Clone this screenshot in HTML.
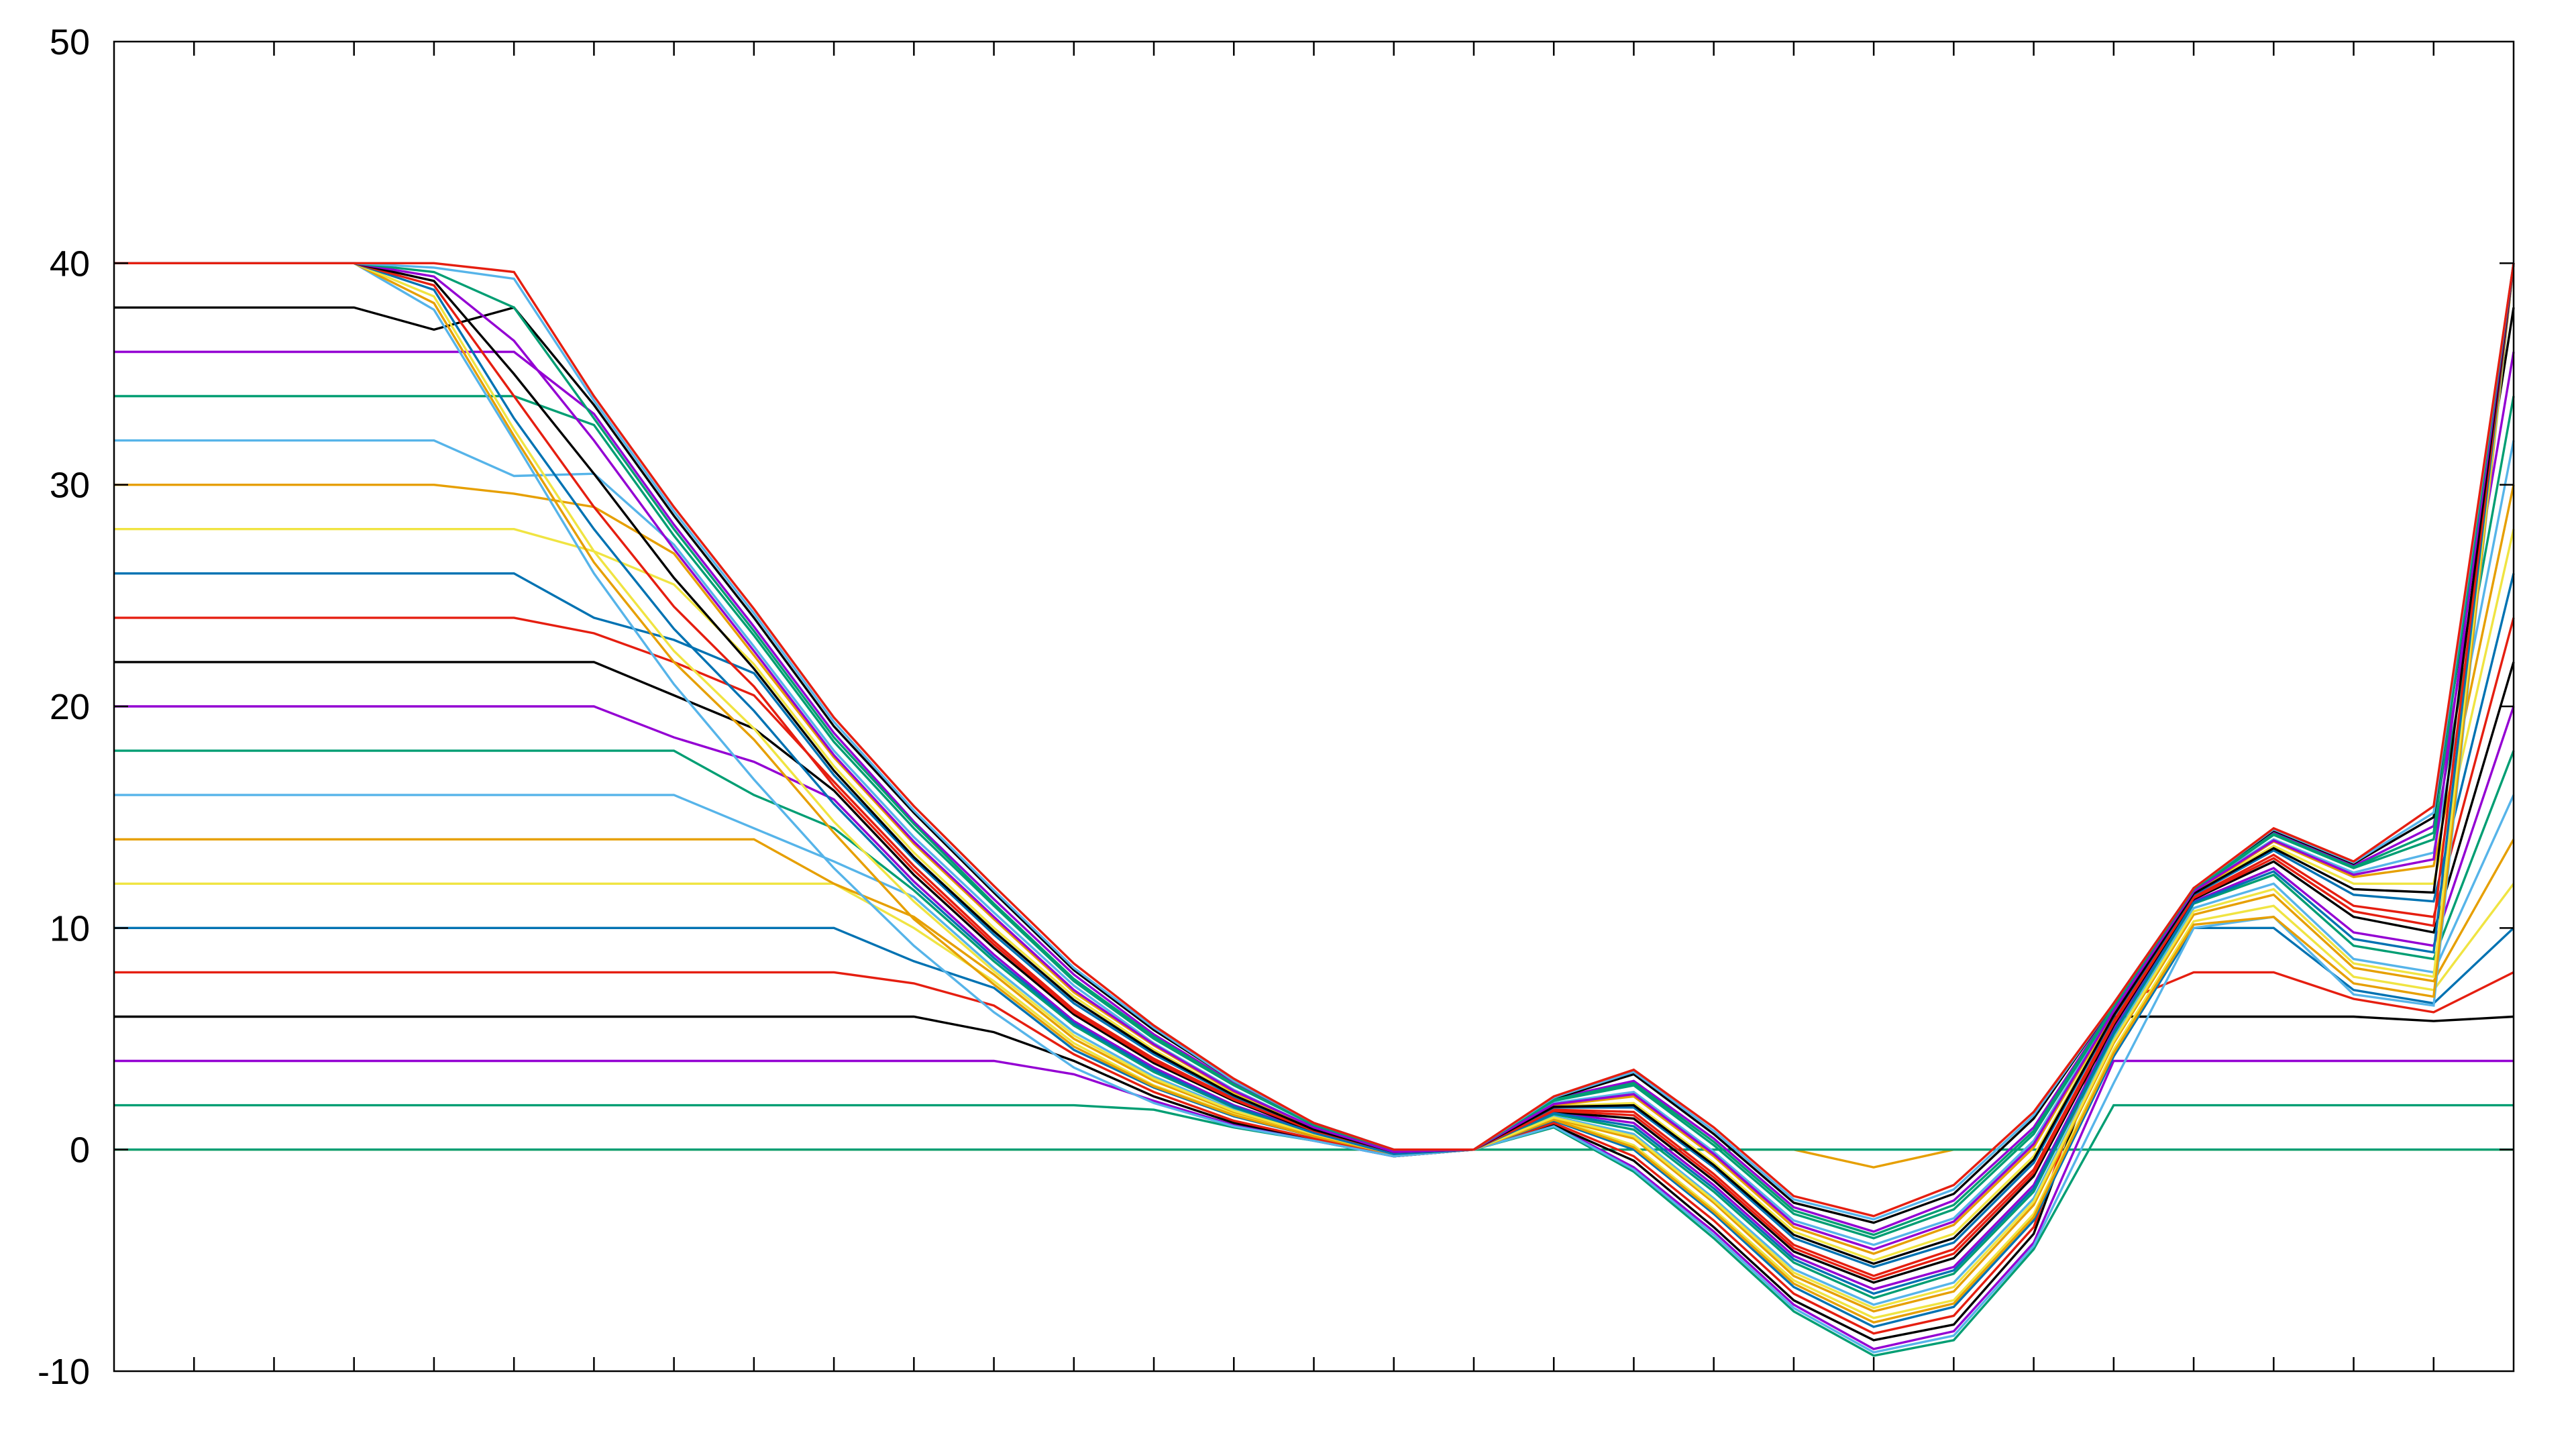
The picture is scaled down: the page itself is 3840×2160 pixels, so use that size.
<!DOCTYPE html>
<html><head><meta charset="utf-8"><style>
html,body{margin:0;padding:0;background:#fff;}
svg{display:block;}
text{font-family:"Liberation Sans",sans-serif;font-size:54px;fill:#000;}
</style></head><body>
<svg id="chart" width="3840" height="2160" viewBox="0 0 3840 2160" xmlns="http://www.w3.org/2000/svg">
<rect x="0" y="0" width="3840" height="2160" fill="#fff"/>
<g id="series"></g>
<g id="axes"></g>
</svg>
<script>
const yTicks = [-10, 0, 10, 20, 30, 40, 50];
const yTickLabels = ["-10", "0", "10", "20", "30", "40", "50"];
const xCount = 30;
const s40 = [40,40,40,40,40,39.6,34,29,24.4,19.5,15.5,11.9,8.4,5.6,3.2,1.2,0,0,2.4,3.6,1,-2.1,-3,-1.6,1.7,6.6,11.8,14.5,13,15.5,40];
const s38 = [38,38,38,38,37,38,33.6,28.6,24,19.1,15.2,11.6,8.1,5.4,3.1,1.2,0,0,2.3,3.4,0.7,-2.4,-3.3,-2,1.4,6.6,11.8,14.4,12.9,15,38];
const s36 = [36,36,36,36,36,36,33.2,28.2,23.6,18.8,14.8,11.3,7.9,5.2,3,1.1,0,0,2.3,3.1,0.5,-2.6,-3.7,-2.3,1.0,6.5,11.8,14.3,12.8,14.6,36];
const s34 = [34,34,34,34,34,34,32.7,27.7,23.2,18.4,14.5,11,7.6,5,2.9,1.1,0,0,2.2,2.9,0.2,-2.9,-4,-2.7,0.7,6.4,11.7,14.2,12.7,14,34];
const s32 = [32,32,32,32,32,30.4,30.5,27.3,22.7,18,14.1,10.7,7.4,4.8,2.7,1,-0.1,0,2.1,2.6,-0.1,-3.2,-4.3,-3.1,0.4,6.3,11.7,14,12.5,13.4,32];
const s30 = [30,30,30,30,30,29.6,29,26.9,22.3,17.7,13.8,10.4,7.1,4.7,2.6,1,-0.1,0,2,2.4,-0.3,-3.5,-4.7,-3.4,0.1,6.2,11.6,13.9,12.3,12.8,30];
const s28 = [28,28,28,28,28,28,27,25.5,21.9,17.3,13.4,10,6.9,4.5,2.5,0.9,-0.1,0,1.96,2.1,-0.6,-3.7,-5,-3.8,-0.3,6.1,11.6,13.7,12,12,28];
const s26 = [26,26,26,26,26,26,24,23,21.5,16.9,13.1,9.7,6.6,4.3,2.4,0.9,-0.1,0,1.9,1.9,-0.8,-4,-5.3,-4.2,-0.6,6,11.5,13.5,11.5,11.2,26];
const s24 = [24,24,24,24,24,24,23.3,22,20.5,16.6,12.8,9.4,6.3,4.1,2.3,0.9,-0.1,0,1.8,1.7,-1.1,-4.3,-5.7,-4.5,-0.9,5.8,11.4,13.3,11,10.5,24];
const s22 = [22,22,22,22,22,22,22,20.5,19,16.2,12.4,9.1,6.1,3.9,2.2,0.8,-0.1,0,1.7,1.4,-1.4,-4.6,-6,-4.9,-1.2,5.6,11.3,13,10.5,9.8,22];
const s20 = [20,20,20,20,20,20,20,18.6,17.5,15.8,12.1,8.8,5.8,3.7,2,0.8,-0.2,0,1.7,1.2,-1.6,-4.8,-6.3,-5.3,-1.6,5.4,11.2,12.7,9.8,9.2,20];
const s18 = [18,18,18,18,18,18,18,18,16,14.5,11.7,8.5,5.6,3.5,1.9,0.7,-0.2,0,1.6,0.9,-1.9,-5.1,-6.7,-5.6,-1.9,5.2,11.1,12.4,9.2,8.6,18];
const s16 = [16,16,16,16,16,16,16,16,14.5,13,11.4,8.2,5.3,3.3,1.8,0.7,-0.2,0,1.5,0.7,-2.2,-5.4,-7,-6,-2.2,5,10.9,12,8.6,8,16];
const s14 = [14,14,14,14,14,14,14,14,14,12,10.5,7.9,5,3.1,1.7,0.7,-0.2,0,1.4,0.5,-2.4,-5.7,-7.3,-6.4,-2.5,4.8,10.6,11.5,8.2,7.6,14];
const s12 = [12,12,12,12,12,12,12,12,12,12,10,7.6,4.8,2.9,1.6,0.6,-0.2,0,1.4,0.2,-2.7,-5.9,-7.6,-6.8,-2.9,4.5,10.3,11,7.8,7.2,12];
const s10 = [10,10,10,10,10,10,10,10,10,10,8.5,7.3,4.5,2.8,1.5,0.6,-0.2,0,1.3,0,-2.9,-6.2,-8,-7.1,-3.2,4.2,10,10,7.2,6.6,10];
const s8 = [8,8,8,8,8,8,8,8,8,8,7.5,6.5,4.3,2.6,1.3,0.5,-0.3,0,1.2,-0.3,-3.2,-6.5,-8.3,-7.5,-3.5,6.5,8,8,6.8,6.2,8];
const s6 = [6,6,6,6,6,6,6,6,6,6,6,5.3,4,2.4,1.2,0.5,-0.3,0,1.1,-0.5,-3.5,-6.8,-8.6,-7.9,-3.8,6,6,6,6,5.8,6];
const s4 = [4,4,4,4,4,4,4,4,4,4,4,4,3.4,2.2,1.1,0.4,-0.3,0,1.1,-0.8,-3.7,-7,-9,-8.2,-4.2,4,4,4,4,4,4];
const s2 = [2,2,2,2,2,2,2,2,2,2,2,2,2,1.8,1,0.4,-0.3,0,1,-1,-4,-7.3,-9.3,-8.6,-4.5,2,2,2,2,2,2];
const s0 = [0,0,0,0,0,0,0,0,0,0,0,0,0,0,0,0,0,0,0,0,0,0,0,0,0,0,0,0,0,0,0];
const sDip = [0,0,0,0,0,0,0,0,0,0,0,0,0,0,0,0,0,0,0,0,0,0,-0.8,0,0,0,0,0,0,0,0];
const eA = [40,40,40,40,39.8,39.3,33.8,28.8,24.2,19.3,15.3,11.7,8.2,5.5,3.1,1.2,0,0,2.35,3.5,0.85,-2.25,-3.15,-1.8,1.55,6.6,11.8,14.45,12.95,15.2,40];
const eB = [40,40,40,40,39.6,38,33,28,23.4,18.6,14.7,11.1,7.7,5.1,2.95,1.1,0,0,2.25,3,0.35,-2.75,-3.85,-2.5,0.85,6.45,11.75,14.25,12.75,14.3,40];
const eC = [40,40,40,40,39.4,36.5,32,27.1,22.5,17.8,13.9,10.5,7.2,4.75,2.65,1,-0.1,0,2.05,2.5,-0.2,-3.35,-4.5,-3.25,0.25,6.25,11.65,13.95,12.4,13.1,40];
const eD = [40,40,40,40,39.2,35,30.5,25.8,21.7,17.1,13.2,9.85,6.75,4.4,2.45,0.9,-0.1,0,1.93,2,-0.7,-3.85,-5.15,-4,-0.45,6.05,11.55,13.6,11.75,11.6,40];
const eE = [40,40,40,40,39,34,29,24.5,20.9,16.4,12.6,9.25,6.2,4,2.25,0.85,-0.1,0,1.75,1.55,-1.25,-4.45,-5.85,-4.7,-1.05,5.7,11.35,13.15,10.75,10.1,40];
const eF = [40,40,40,40,38.8,33,28,23.5,19.8,15.6,11.9,8.65,5.7,3.6,1.95,0.75,-0.2,0,1.65,1.05,-1.75,-4.95,-6.5,-5.45,-1.75,5.3,11.15,12.55,9.5,8.9,40];
const eG = [40,40,40,40,38.5,32.5,27,22.5,19,14.8,11.2,8.05,5.15,3.2,1.75,0.7,-0.2,0,1.45,0.6,-2.3,-5.55,-7.15,-6.2,-2.35,4.9,10.75,11.75,8.4,7.8,40];
const eH = [40,40,40,40,38.2,32.2,26.5,22,18.5,14.3,10.4,7.45,4.65,2.85,1.55,0.6,-0.2,0,1.35,0.1,-2.8,-6.05,-7.8,-6.95,-3.05,4.35,10.15,10.5,7.5,6.9,40];
const eI = [40,40,40,40,37.9,32,26,21,16.7,12.7,9.2,6.2,3.7,2.1,1.05,0.4,-0.3,0,1.05,-0.9,-3.85,-7.15,-9.15,-8.4,-4.35,3,10,10.5,7,6.5,40];
const seriesList = [sDip, s0, s2, s4, s6, s8, s10, s12, s14, s16, s18, s20, s22, s24, s26, s28, s30, s32, s34, s36, s38, eI, eH, eG, eF, eE, eD, eC, eB, eA, s40];
const seriesNames = ["dip","level-0","level-2","level-4","level-6","level-8","level-10","level-12","level-14","level-16","level-18","level-20","level-22","level-24","level-26","level-28","level-30","level-32","level-34","level-36","level-38","fan-i","fan-h","fan-g","fan-f","fan-e","fan-d","fan-c","fan-b","fan-a","level-40"];
const seriesColors = ["#e69f00","#009e73","#009e73","#9400d3","#000000","#e51e10","#0072b2","#f0e442","#e69f00","#56b4e9","#009e73","#9400d3","#000000","#e51e10","#0072b2","#f0e442","#e69f00","#56b4e9","#009e73","#9400d3","#000000","#56b4e9","#e69f00","#f0e442","#0072b2","#e51e10","#000000","#9400d3","#009e73","#56b4e9","#e51e10"];

const L = 170, R = 3747, T = 62, B = 2044;
const yMin = -10, yMax = 50;
function xs(i){ return L + (R - L) * i / xCount; }
function ys(v){ return B - (B - T) * (v - yMin) / (yMax - yMin); }
const NS = "http://www.w3.org/2000/svg";
const sg = document.getElementById('series');
const ag = document.getElementById('axes');

seriesList.forEach((arr, si) => {
  const p = document.createElementNS(NS, 'polyline');
  p.setAttribute('points', arr.map((v, i) => xs(i).toFixed(1) + ',' + ys(v).toFixed(1)).join(' '));
  p.setAttribute('fill', 'none');
  p.setAttribute('stroke', seriesColors[si]);
  p.setAttribute('stroke-width', '3.4');
  p.setAttribute('stroke-linejoin', 'miter');
  
  
  sg.appendChild(p);
});

const frame = document.createElementNS(NS, 'rect');
frame.setAttribute('x', L); frame.setAttribute('y', T);
frame.setAttribute('width', R - L); frame.setAttribute('height', B - T);
frame.setAttribute('fill', 'none'); frame.setAttribute('stroke', '#000'); frame.setAttribute('stroke-width', '2.5');


ag.appendChild(frame);

for (let i = 1; i < xCount; i++) {
  const t1 = document.createElementNS(NS, 'line');
  t1.setAttribute('x1', xs(i)); t1.setAttribute('x2', xs(i));
  t1.setAttribute('y1', B); t1.setAttribute('y2', B - 21);
  t1.setAttribute('stroke', '#000'); t1.setAttribute('stroke-width', '2.5');
  
  
  ag.appendChild(t1);
  const t2 = document.createElementNS(NS, 'line');
  t2.setAttribute('x1', xs(i)); t2.setAttribute('x2', xs(i));
  t2.setAttribute('y1', T); t2.setAttribute('y2', T + 21);
  t2.setAttribute('stroke', '#000'); t2.setAttribute('stroke-width', '2.5');
  
  
  ag.appendChild(t2);
}
yTicks.forEach((v, i) => {
  const y = ys(v);
  if (v > yMin && v < yMax) {
    const a = document.createElementNS(NS, 'line');
    a.setAttribute('x1', L); a.setAttribute('x2', L + 21); a.setAttribute('y1', y); a.setAttribute('y2', y);
    a.setAttribute('stroke', '#000'); a.setAttribute('stroke-width', '2.5');
    
    
    ag.appendChild(a);
    const b = document.createElementNS(NS, 'line');
    b.setAttribute('x1', R); b.setAttribute('x2', R - 21); b.setAttribute('y1', y); b.setAttribute('y2', y);
    b.setAttribute('stroke', '#000'); b.setAttribute('stroke-width', '2.5');
    
    
    ag.appendChild(b);
  }
  const t = document.createElementNS(NS, 'text');
  t.setAttribute('x', 134); t.setAttribute('y', y + 19);
  t.setAttribute('text-anchor', 'end');
  t.textContent = yTickLabels[i];
  
  
  ag.appendChild(t);
});
</script>
</body></html>
